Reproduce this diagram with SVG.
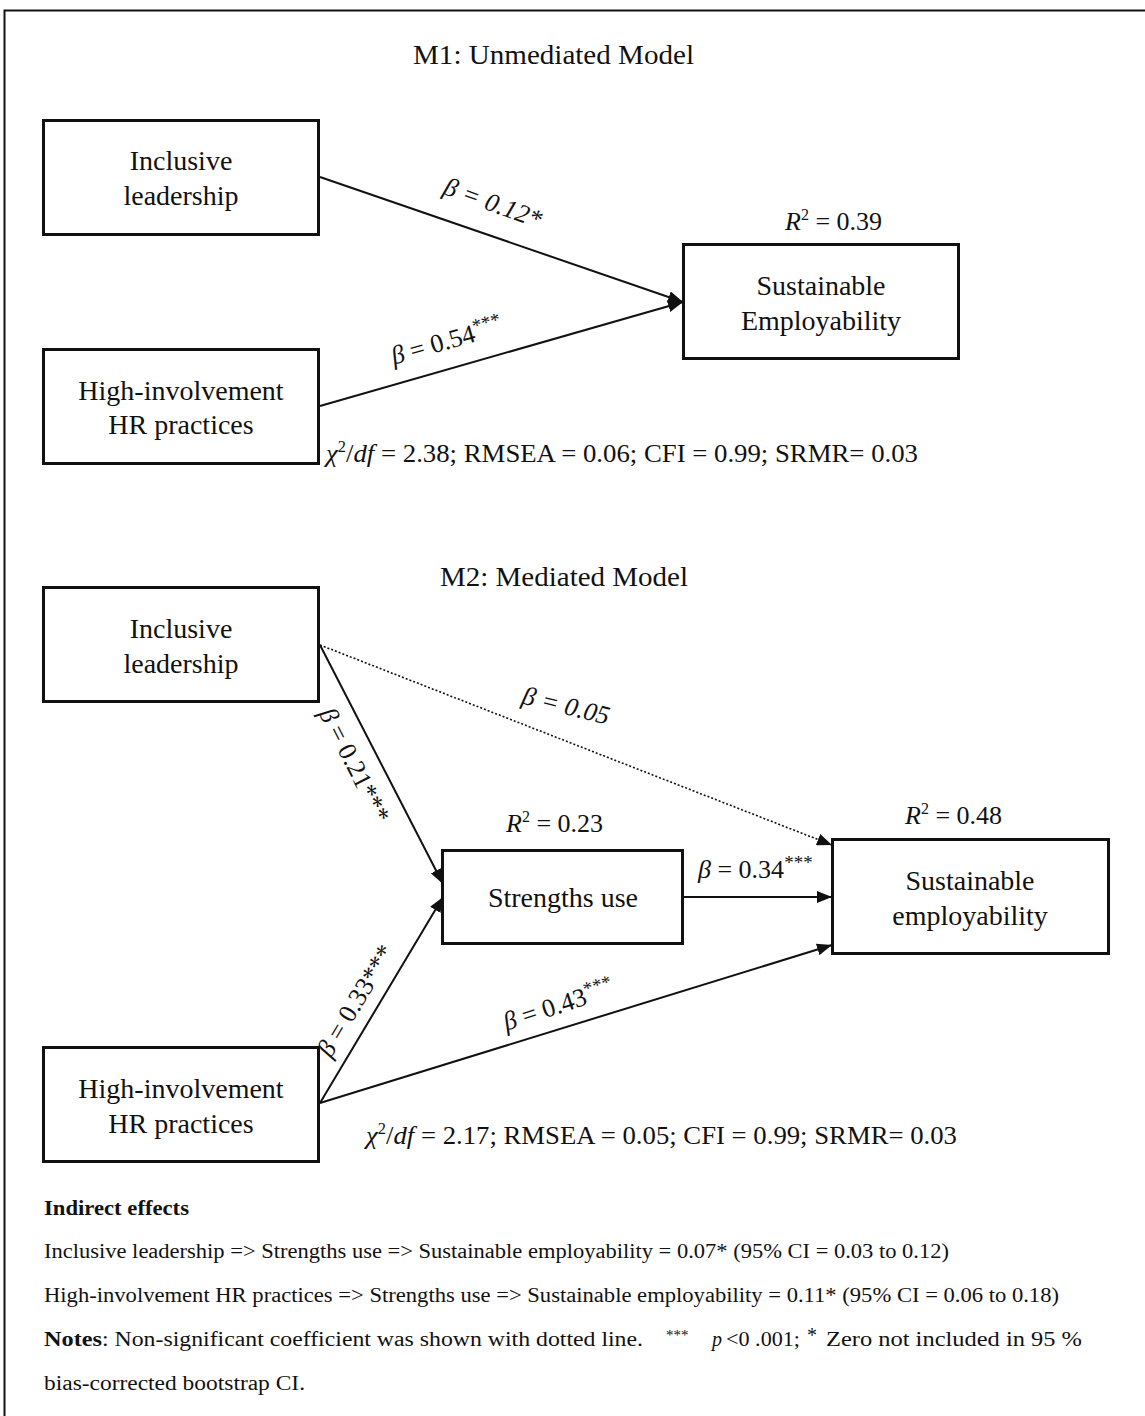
<svg xmlns="http://www.w3.org/2000/svg" width="1145" height="1416" viewBox="0 0 1145 1416">
<defs>
<style>
text{font-family:"Liberation Serif","Times New Roman",serif;fill:#111}
.box{fill:#fff;stroke:#111;stroke-width:3}
.nt{font-size:28px;text-anchor:middle}
.ttl{font-size:27px}
.lab{font-size:26px}
.fit{font-size:26px}
.small{font-size:20px}
.edge{stroke:#111;stroke-width:2;fill:none}
.dot{stroke:#111;stroke-width:1.6;fill:none;stroke-dasharray:2 2}
</style>
<marker id="ah" markerUnits="userSpaceOnUse" markerWidth="15" markerHeight="12" refX="15" refY="6" orient="auto">
<path d="M0,0 L15,6 L0,12 z" fill="#111"/>
</marker>
</defs>
<rect width="1145" height="1416" fill="#fff"/>
<path d="M4.5,1416 V10.5 H1145" fill="none" stroke="#111" stroke-width="2"/>

<text class="ttl" x="413" y="64" textLength="281" lengthAdjust="spacingAndGlyphs">M1: Unmediated Model</text>
<text class="ttl" x="440" y="586" textLength="248" lengthAdjust="spacingAndGlyphs">M2: Mediated Model</text>

<g id="connectors">
<line class="edge" x1="320" y1="177" x2="683" y2="302" marker-end="url(#ah)"/>
<line class="edge" x1="320" y1="406" x2="683" y2="302" marker-end="url(#ah)"/>
<line class="edge" x1="320" y1="645" x2="443" y2="884" marker-end="url(#ah)"/>
<line class="dot" x1="320" y1="645" x2="832" y2="845" marker-end="url(#ah)"/>
<line class="edge" x1="684" y1="897" x2="832" y2="897" marker-end="url(#ah)"/>
<line class="edge" x1="320" y1="1103" x2="443" y2="897" marker-end="url(#ah)"/>
<line class="edge" x1="320" y1="1103" x2="832" y2="945" marker-end="url(#ah)"/>

<text class="lab" font-style="italic" text-anchor="middle" transform="translate(490,211) rotate(20)">β = 0.12*</text>
<text class="lab" text-anchor="middle" transform="translate(449,349) rotate(-16)"><tspan font-style="italic">β</tspan> = 0.54<tspan font-size="19" dy="-9">***</tspan></text>
<text class="lab" text-anchor="middle" transform="translate(347,769) rotate(63)"><tspan font-style="italic">β</tspan> = 0.21***</text>
<text class="lab" font-style="italic" text-anchor="middle" transform="translate(564,714) rotate(14)">β = 0.05</text>
<text class="lab" x="698" y="878"><tspan font-style="italic">β</tspan> = 0.34<tspan font-size="19" dy="-9">***</tspan></text>
<text class="lab" text-anchor="middle" transform="translate(363,1005) rotate(-59)"><tspan font-style="italic">β</tspan> = 0.33***</text>
<text class="lab" text-anchor="middle" transform="translate(561,1013) rotate(-18)"><tspan font-style="italic">β</tspan> = 0.43<tspan font-size="19" dy="-9">***</tspan></text>
</g>

<g id="m1-inclusive">
<rect class="box" x="43.5" y="120.5" width="275" height="114"/>
<text class="nt" x="181" y="170">Inclusive</text>
<text class="nt" x="181" y="205">leadership</text>
</g>
<g id="m1-hihr">
<rect class="box" x="43.5" y="349.5" width="275" height="114"/>
<text class="nt" x="181" y="400">High-involvement</text>
<text class="nt" x="181" y="434">HR practices</text>
</g>
<g id="m1-se">
<rect class="box" x="683.5" y="244.5" width="275" height="114"/>
<text class="nt" x="821" y="295">Sustainable</text>
<text class="nt" x="821" y="330">Employability</text>
<text class="lab" x="785" y="230"><tspan font-style="italic">R</tspan><tspan font-size="16" dy="-10">2</tspan><tspan dy="10"> = 0.39</tspan></text>
</g>
<text class="fit" x="326" y="462" textLength="592" lengthAdjust="spacingAndGlyphs"><tspan font-style="italic">χ</tspan><tspan font-size="16" dy="-10">2</tspan><tspan dy="10">/</tspan><tspan font-style="italic">df</tspan> = 2.38; RMSEA = 0.06; CFI = 0.99; SRMR= 0.03</text>

<g id="m2-inclusive">
<rect class="box" x="43.5" y="587.5" width="275" height="114"/>
<text class="nt" x="181" y="638">Inclusive</text>
<text class="nt" x="181" y="673">leadership</text>
</g>
<g id="m2-strengths">
<rect class="box" x="442.5" y="850.5" width="240" height="93"/>
<text class="nt" x="563" y="907">Strengths use</text>
<text class="lab" x="506" y="832"><tspan font-style="italic">R</tspan><tspan font-size="16" dy="-10">2</tspan><tspan dy="10"> = 0.23</tspan></text>
</g>
<g id="m2-se">
<rect class="box" x="832.5" y="839.5" width="276" height="114"/>
<text class="nt" x="970" y="890">Sustainable</text>
<text class="nt" x="970" y="925">employability</text>
<text class="lab" x="905" y="824"><tspan font-style="italic">R</tspan><tspan font-size="16" dy="-10">2</tspan><tspan dy="10"> = 0.48</tspan></text>
</g>
<g id="m2-hihr">
<rect class="box" x="43.5" y="1047.5" width="275" height="114"/>
<text class="nt" x="181" y="1098">High-involvement</text>
<text class="nt" x="181" y="1133">HR practices</text>
</g>
<text class="fit" x="366" y="1144" textLength="591" lengthAdjust="spacingAndGlyphs"><tspan font-style="italic">χ</tspan><tspan font-size="16" dy="-10">2</tspan><tspan dy="10">/</tspan><tspan font-style="italic">df</tspan> = 2.17; RMSEA = 0.05; CFI = 0.99; SRMR= 0.03</text>

<g id="notes">
<text class="small" x="44" y="1215" font-weight="bold" textLength="145" lengthAdjust="spacingAndGlyphs">Indirect effects</text>
<text class="small" x="44" y="1258" textLength="905" lengthAdjust="spacingAndGlyphs">Inclusive leadership =&gt; Strengths use =&gt; Sustainable employability = 0.07* (95% CI = 0.03 to 0.12)</text>
<text class="small" x="44" y="1302" textLength="1015" lengthAdjust="spacingAndGlyphs">High-involvement HR practices =&gt; Strengths use =&gt; Sustainable employability = 0.11* (95% CI = 0.06 to 0.18)</text>
<text class="small" x="44" y="1346" font-weight="bold" textLength="58" lengthAdjust="spacingAndGlyphs">Notes</text>
<text class="small" x="102" y="1346" textLength="541" lengthAdjust="spacingAndGlyphs">: Non-significant coefficient was shown with dotted line.</text>
<text x="666" y="1340" font-size="15">***</text>
<text class="small" x="712" y="1346" font-style="italic">p</text>
<text class="small" x="726" y="1346" textLength="74" lengthAdjust="spacingAndGlyphs">&lt;0 .001;</text>
<text x="807" y="1342" font-size="20">*</text>
<text class="small" x="826" y="1346" textLength="256" lengthAdjust="spacingAndGlyphs">Zero not included in 95 %</text>
<text class="small" x="44" y="1390" textLength="261" lengthAdjust="spacingAndGlyphs">bias-corrected bootstrap CI.</text>
</g>
</svg>
